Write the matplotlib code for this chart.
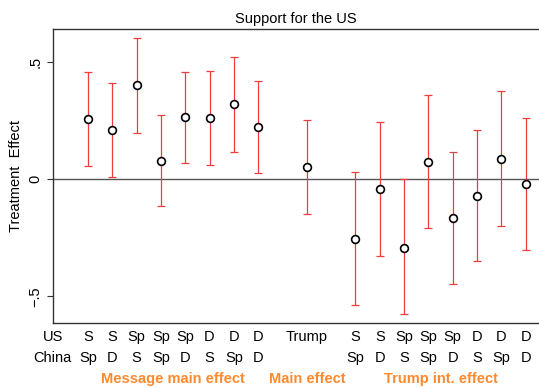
import numpy as np
import matplotlib
matplotlib.use("Agg")
import matplotlib.pyplot as plt

plt.rcParams['font.family'] = ['Liberation Sans', 'DejaVu Sans']

# positions on the x axis (gaps between groups)
xpos = [1, 2, 3, 4, 5, 6, 7, 8, 10, 12, 13, 14, 15, 16, 17, 18, 19]
est = [0.258, 0.209, 0.402, 0.077, 0.265, 0.262, 0.320, 0.221,
       0.054,
       -0.254, -0.041, -0.294, 0.075, -0.167, -0.070, 0.087, -0.019]
ci_hi = [0.459, 0.409, 0.605, 0.274, 0.459, 0.463, 0.521, 0.419,
         0.255,
         0.033, 0.244, -0.001, 0.360, 0.115, 0.211, 0.376, 0.263]
ci_lo = [0.056, 0.010, 0.198, -0.114, 0.070, 0.062, 0.115, 0.026,
         -0.148,
         -0.539, -0.329, -0.577, -0.208, -0.449, -0.351, -0.201, -0.302]
us_lab = ["S", "S", "Sp", "Sp", "Sp", "D", "D", "D", "Trump",
          "S", "S", "Sp", "Sp", "Sp", "D", "D", "D"]
china_lab = ["Sp", "D", "S", "Sp", "D", "S", "Sp", "D", "",
             "Sp", "D", "S", "Sp", "D", "S", "Sp", "D"]
groups = ["Message main effect", "Main effect", "Trump int. effect"]
group_x = [4.5, 10, 15.5]

orange = '#ff8a2e'
red = '#f03c3c'

fig = plt.figure(figsize=(5.39, 3.88), dpi=100)
ax = fig.add_axes([0.0978, 0.1675, 0.9022, 0.758])

est = np.array(est)
err = [est - np.array(ci_lo), np.array(ci_hi) - est]
ax.errorbar(xpos, est, yerr=err, fmt='none', ecolor=red, elinewidth=0.9,
            capsize=2.8, capthick=0.9, zorder=2)
ax.plot(xpos, est, 'o', mfc='white', mec='black', mew=1.2, ms=5.6, zorder=3)
ax.axhline(0, color='#555555', lw=1.0, zorder=1)

ax.set_xlim(-0.45, 19.55)
ax.set_ylim(-0.614, 0.642)
ax.set_xticks([])
ax.set_yticks([-0.5, 0, 0.5])
ax.set_yticklabels(['\u2212.5', '0', '.5'], rotation=90, va='center')
ax.tick_params(axis='y', length=4.5, width=0.8, labelsize=10.5, pad=3,
               color='#333333')
ax.set_ylabel('Treatment  Effect', fontsize=10.5, labelpad=4)
ax.spines['right'].set_visible(False)
for s in ['left', 'top', 'bottom']:
    ax.spines[s].set_color('#333333')
    ax.spines[s].set_linewidth(1.0)

ax.set_title('Support for the US', fontsize=10.5, pad=4)

tr = ax.get_xaxis_transform()
ax.text(-0.45, -0.047, 'US', transform=tr, ha='center', va='center', fontsize=10.5)
ax.text(-0.45, -0.120, 'China', transform=tr, ha='center', va='center', fontsize=10.5)
for x, a, b in zip(xpos, us_lab, china_lab):
    ax.text(x, -0.047, a, transform=tr, ha='center', va='center', fontsize=10.5)
    ax.text(x, -0.120, b, transform=tr, ha='center', va='center', fontsize=10.5)
for x, g in zip(group_x, groups):
    ax.text(x, -0.190, g, transform=tr, ha='center', va='center', fontsize=10.5,
            color=orange, fontweight='bold')

fig.savefig('out.png', dpi=100)
